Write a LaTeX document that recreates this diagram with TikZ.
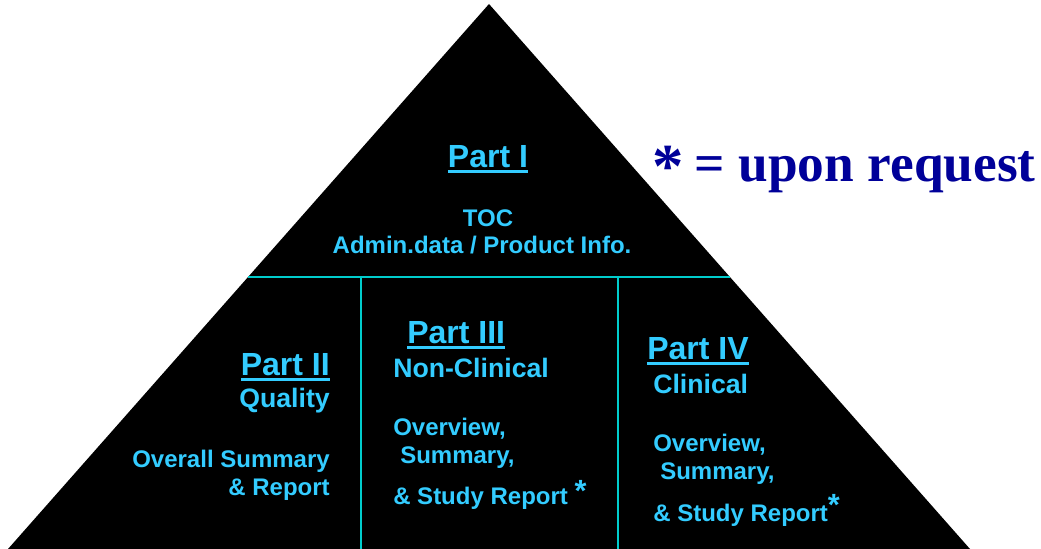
\documentclass[tikz,border=0pt]{standalone}
\usepackage{fontspec}
\setmainfont{Liberation Sans}
\newfontfamily\notefont{Liberation Serif}
\usetikzlibrary{positioning}
\definecolor{partblue}{HTML}{33CCFF}
\definecolor{lineteal}{HTML}{00CCCC}
\definecolor{noteblue}{HTML}{000099}
\newcommand{\partul}[1]{\setbox0\hbox{#1}\rlap{\rule[-4.5pt]{\wd0}{2.5pt}}\box0}
\newcommand{\reqmark}[1]{\raisebox{#1}{\fontsize{23}{23}\selectfont*}}

\begin{document}
\begin{tikzpicture}[x=0.75pt,y=-0.75pt,
divider/.style={draw=lineteal, line width=1.5pt},
partTitle/.style={text=partblue, inner sep=0pt, font=\fontsize{24}{28}\selectfont\bfseries},
partSub/.style={text=partblue, inner sep=0pt, font=\fontsize{20}{24}\selectfont\bfseries},
partText/.style={text=partblue, inner sep=0pt, font=\fontsize{18}{21}\selectfont\bfseries},
]
\useasboundingbox (0,0) rectangle (1041,549);

% pyramid
\coordinate (apex) at (489,4);
\coordinate (bl) at (8,549);
\coordinate (br) at (970,549);
\fill[black] (apex) -- (bl) -- (br) -- cycle;

\coordinate (dl) at (248.3,277);
\coordinate (dr) at (729.7,277);
\coordinate (v1top) at (361,277);
\coordinate (v1bot) at (361,549);
\coordinate (v2top) at (618,277);
\coordinate (v2bot) at (618,549);
\draw[divider] (dl) -- (dr);
\draw[divider] (v1top) -- (v1bot);
\draw[divider] (v2top) -- (v2bot);

% Part I
\node[partTitle, anchor=base] (title1) at (488,167) {\partul{Part I}};
\node[partText, anchor=base] (toc) at (488,226) {TOC};
\node[partText, anchor=base] (admin) at (482,253) {Admin.data / Product Info.};

% Part II
\node[partTitle, anchor=base east] (title2) at (330,375) {\partul{Part II}};
\node[partSub, anchor=base east] (quality) at (330,407) {Quality};
\node[partText, anchor=base east] (overall2) at (330,467) {Overall Summary};
\node[partText, anchor=base east] (report2) at (330,495) {\& Report};

% Part III
\node[partTitle, anchor=base west] (title3) at (407,343) {\partul{Part III}};
\node[partSub, anchor=base west] (nonclin) at (393,377) {Non-Clinical};
\node[partText, anchor=base west] (overview3) at (393,435) {Overview,};
\node[partText, anchor=base west] (summary3) at (400,463) {Summary,};
\node[partText, anchor=base west] (study3) at (393,504) {\& Study Report \reqmark{2pt}};

% Part IV
\node[partTitle, anchor=base west] (title4) at (647,359) {\partul{Part IV}};
\node[partSub, anchor=base west] (clin) at (653,393) {Clinical};
\node[partText, anchor=base west] (overview4) at (653,451) {Overview,};
\node[partText, anchor=base west] (summary4) at (660,479) {Summary,};
\node[partText, anchor=base west] (study4) at (653,521) {\& Study Report\reqmark{4pt}};

% note
\node[anchor=base west, inner sep=0pt, text=noteblue, font=\notefont\fontsize{40}{44}\selectfont\bfseries] (note) at (652,181) {\makebox[32pt][l]{\raisebox{-5pt}{\fontsize{47}{47}\selectfont*}}= upon request};

\end{tikzpicture}
\end{document}
